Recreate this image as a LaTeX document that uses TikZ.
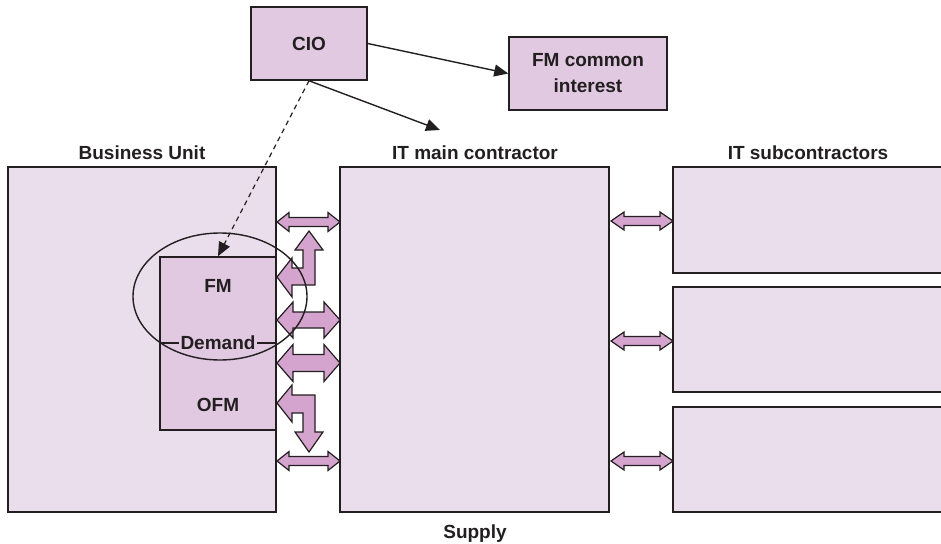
\documentclass[tikz,border=0pt]{standalone}
\usepackage{fontspec}
\setmainfont{Liberation Sans}
\usetikzlibrary{arrows.meta}
\definecolor{boxlight}{RGB}{235,222,236}
\definecolor{boxmid}{RGB}{225,201,226}
\definecolor{arrowfill}{RGB}{212,164,206}
\definecolor{ink}{RGB}{35,31,32}
% double-headed block arrow: x1, x2, y, shaft half, head half, head length
\newcommand\dblarr[6]{%
  \draw[blockarrow] (#1,#3) -- (#1+#6,#3-#5) -- (#1+#6,#3-#4) -- (#2-#6,#3-#4)
    -- (#2-#6,#3-#5) -- (#2,#3) -- (#2-#6,#3+#5) -- (#2-#6,#3+#4)
    -- (#1+#6,#3+#4) -- (#1+#6,#3+#5) -- cycle;}
\begin{document}
\begin{tikzpicture}[x=1pt,y=-1pt,
  font=\bfseries\fontsize{19}{26}\selectfont,
  box/.style={draw=ink, line width=1.5pt, fill=boxlight, rectangle, inner sep=0pt},
  midbox/.style={box, fill=boxmid},
  lbl/.style={text=ink, anchor=base, inner sep=0pt},
  blockarrow/.style={draw=ink, fill=arrowfill, line width=1.2pt, line join=miter},
  conn/.style={draw=ink, line width=1.4pt, -{Triangle[length=14pt,width=12pt]}}]
\useasboundingbox (0,0) rectangle (941,543);
\clip (0,0) rectangle (941,543);

% main boxes
\node[box, minimum width=268pt, minimum height=345pt] (bu) at (142,339.5) {};
\node[box, minimum width=269pt, minimum height=345pt] (itm) at (474.5,339.5) {};
\node[box, minimum width=272pt, minimum height=106pt] (sub1) at (809,220) {};
\node[box, minimum width=272pt, minimum height=105pt] (sub2) at (809,339.5) {};
\node[box, minimum width=272pt, minimum height=105pt] (sub3) at (809,459.5) {};

% top boxes
\node[midbox, minimum width=116pt, minimum height=73pt] (cio) at (309,43.5) {};
\node[lbl] (ciot) at (309,51) {CIO};
\node[midbox, minimum width=158pt, minimum height=73pt, align=center, text=ink] (fmci) at (588,73.5) {FM common\\interest};

% inner FM / OFM box
\node[midbox, minimum width=116pt, minimum height=173pt] (fm) at (218,343.5) {};
\coordinate (dl) at (160,343);
\coordinate (dr) at (276,343);
\draw[ink, line width=1.3pt] (dl) -- (dr);
\node[fill=boxmid, text=ink, inner sep=2pt] (demand) at (218,343) {Demand};
\node[lbl] (fmt) at (218,292) {FM};
\node[lbl] (ofm) at (218,411) {OFM};

% block arrows between business unit and main contractor
\dblarr{277}{340}{222}{4.5}{9.5}{12}
\draw[blockarrow] (277,277) -- (292,258) -- (292,268) -- (303,268) -- (303,250)
  -- (295,250) -- (309,231) -- (323,250) -- (315,250) -- (315,285) -- (292,285)
  -- (292,297) -- cycle;
\dblarr{277}{340}{320}{8}{18}{16}
\dblarr{277}{340}{363}{8.5}{18.5}{16}
\draw[blockarrow] (277,403) -- (292,385) -- (292,395) -- (315,395) -- (315,432)
  -- (323,432) -- (309,452) -- (295,432) -- (303,432) -- (303,413) -- (292,413)
  -- (292,422) -- cycle;
\dblarr{277}{340}{461}{4.5}{9.5}{12}

% block arrows between main contractor and subcontractors
\dblarr{611}{673}{221}{4.5}{9}{13}
\dblarr{611}{673}{341}{4.5}{9}{13}
\dblarr{611}{673}{461}{4.5}{9}{13}

% ellipse around FM / Demand
\draw[ink, line width=1.4pt] (220,296.5) ellipse [x radius=87pt, y radius=63.5pt];

% labels
\node[lbl] (bul) at (142,159) {Business Unit};
\node[lbl] (itml) at (475,159) {IT main contractor};
\node[lbl] (subl) at (808,159) {IT subcontractors};
\node[lbl] (sup) at (475,538) {Supply};

% connectors
\coordinate (itmtip) at (440,130);
\draw[conn] (cio.east) -- (fmci.west);
\draw[conn] (cio.south) -- (itmtip);
\draw[conn, dash pattern=on 5pt off 4pt, line width=1.2pt] (cio.south) -- (fm.north);
\end{tikzpicture}
\end{document}
